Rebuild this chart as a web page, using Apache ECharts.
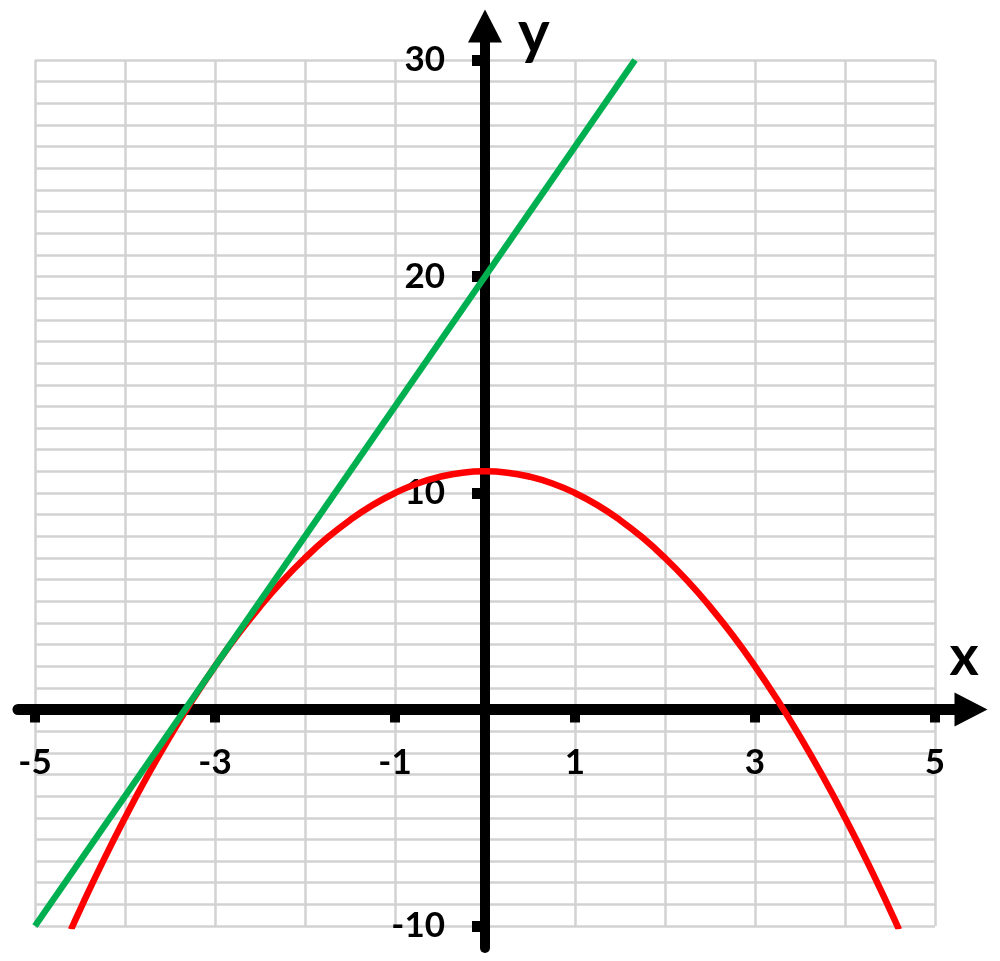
<!DOCTYPE html>
<html>
<head>
<meta charset="utf-8">
<script src="https://cdn.jsdelivr.net/npm/echarts@6/dist/echarts.min.js"></script>
<style>
html,body{margin:0;padding:0;background:#fff;}
#chart{width:1000px;height:961px;}
</style>
</head>
<body>
<div id="chart"></div>
<script>
// Parabola (red) points
const parabolaX = [-4.6, -4.5, -4.25, -4, -3.75, -3.5, -3.25, -3, -2.75, -2.5, -2.25, -2, -1.75, -1.5, -1.25, -1, -0.75, -0.5, -0.25, 0,
                   0.25, 0.5, 0.75, 1, 1.25, 1.5, 1.75, 2, 2.25, 2.5, 2.75, 3, 3.25, 3.5, 3.75, 4, 4.25, 4.5, 4.6];
const parabolaY = [-10.16, -9.25, -7.06, -5, -3.06, -1.25, 0.44, 2, 3.44, 4.75, 5.94, 7, 7.94, 8.75, 9.44, 10, 10.44, 10.75, 10.94, 11,
                   10.94, 10.75, 10.44, 10, 9.44, 8.75, 7.94, 7, 5.94, 4.75, 3.44, 2, 0.44, -1.25, -3.06, -5, -7.06, -9.25, -10.16];
// Tangent line (green) end points
const lineX = [-5, 1.667];
const lineY = [-10, 30];
// Tick labels
const xTickValues = [-5, -3, -1, 1, 3, 5];
const yTickValues = [-10, 10, 20, 30];
const xName = 'x';
const yName = 'y';

const FONT = 'Lato';
const chart = echarts.init(document.getElementById('chart'), null, {renderer: 'canvas'});

const toPairs = (xs, ys) => xs.map((x, i) => [x, ys[i]]);

const labelStyle = {
  fontFamily: FONT, fontWeight: 'bold', fontSize: 35, color: '#000'
};
const hiddenAxis = {
  axisLine: {show: false}, axisTick: {show: false}, axisLabel: {show: false}, splitLine: {show: false}
};

chart.setOption({
  backgroundColor: '#fff',
  animation: false,
  grid: [
    // 0: plot area with the light grid
    {left: 35, right: 65, top: 60, bottom: 35, containLabel: false, outerBoundsMode: 'none'},
    // 1: the black axes with arrows
    {left: 18, right: 29, top: 26, bottom: 13, containLabel: false, outerBoundsMode: 'none'},
    // 2: x tick labels (bottom edge sits on y = 0)
    {left: 35, right: 65, top: 60, bottom: 251.5, containLabel: false, outerBoundsMode: 'none'},
    // 3: y tick labels (left edge sits on x = 0)
    {left: 485, right: 65, top: 60, bottom: 35, containLabel: false, outerBoundsMode: 'none'}
  ],
  xAxis: [
    {
      gridIndex: 0, type: 'value', min: -5, max: 5, interval: 1,
      axisLine: {show: false}, axisTick: {show: false}, axisLabel: {show: false},
      splitLine: {show: true, lineStyle: {color: '#d2d2d2', width: 2.5}}
    },
    {
      gridIndex: 1, type: 'value', min: -5.189, max: 5.4,
      axisLine: {show: true, onZero: true, symbol: ['none', 'triangle'], symbolSize: [34, 33],
        lineStyle: {color: '#000', width: 11}},
      axisTick: {show: true, customValues: xTickValues, length: 13, inside: false,
        lineStyle: {color: '#000', width: 10}},
      axisLabel: {show: false},
      splitLine: {show: false},
      name: xName, nameLocation: 'end', nameGap: -7,
      nameTextStyle: {fontFamily: FONT, fontWeight: 'bold', fontSize: 56, color: '#000',
        align: 'center', verticalAlign: 'bottom', padding: [0, 0, 24, 0]}
    },
    {
      gridIndex: 2, type: 'value', min: -5, max: 5, position: 'bottom',
      axisLine: {show: false}, axisTick: {show: false}, splitLine: {show: false},
      axisLabel: {show: true, customValues: xTickValues, margin: 36, ...labelStyle}
    },
    {gridIndex: 3, type: 'value', min: 0, max: 5, ...hiddenAxis}
  ],
  yAxis: [
    {
      gridIndex: 0, type: 'value', min: -10, max: 30, interval: 1,
      axisLine: {show: false}, axisTick: {show: false}, axisLabel: {show: false},
      splitLine: {show: true, lineStyle: {color: '#d2d2d2', width: 2.5}}
    },
    {
      gridIndex: 1, type: 'value', min: -11.02, max: 31.57,
      axisLine: {show: true, onZero: true, symbol: ['none', 'triangle'], symbolSize: [34, 33],
        lineStyle: {color: '#000', width: 10}},
      axisTick: {show: true, customValues: yTickValues, length: 13, inside: false,
        lineStyle: {color: '#000', width: 11}},
      axisLabel: {show: false},
      splitLine: {show: false},
      name: yName, nameLocation: 'end', nameGap: -8,
      nameTextStyle: {fontFamily: FONT, fontWeight: 'bold', fontSize: 60, color: '#000',
        align: 'left', verticalAlign: 'middle', padding: [0, 0, 0, 33]}
    },
    {gridIndex: 2, type: 'value', min: 0, max: 30, ...hiddenAxis},
    {
      gridIndex: 3, type: 'value', min: -10, max: 30, position: 'left',
      axisLine: {show: false}, axisTick: {show: false}, splitLine: {show: false},
      axisLabel: {show: true, customValues: yTickValues, margin: 40, ...labelStyle}
    }
  ],
  series: [
    {
      type: 'line', xAxisIndex: 0, yAxisIndex: 0, data: toPairs(parabolaX, parabolaY),
      smooth: true, showSymbol: false, clip: true,
      lineStyle: {color: '#ff0000', width: 6.5}, z: 3
    },
    {
      type: 'line', xAxisIndex: 0, yAxisIndex: 0, data: toPairs(lineX, lineY),
      showSymbol: false, clip: true,
      lineStyle: {color: '#00b050', width: 6.5}, z: 4
    }
  ]
});
</script>
</body>
</html>
